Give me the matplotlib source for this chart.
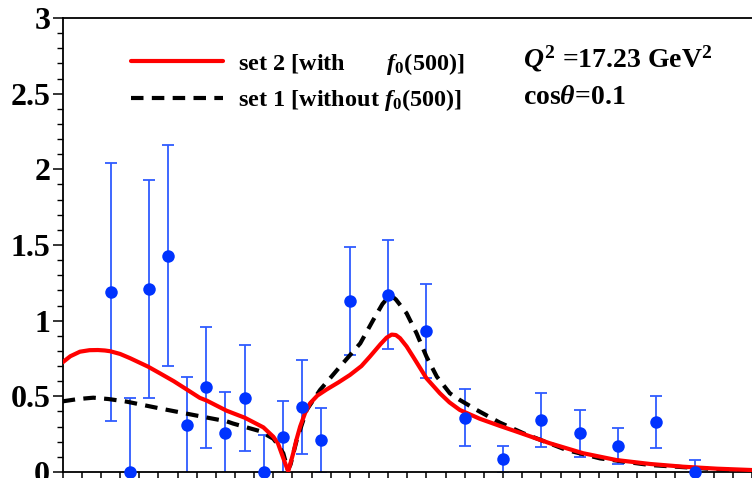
import matplotlib
matplotlib.use("Agg")
import matplotlib.pyplot as plt
import numpy as np

plt.rcParams['font.family'] = ['Liberation Serif', 'DejaVu Serif']
plt.rcParams['font.weight'] = 'bold'
plt.rcParams['mathtext.fontset'] = 'custom'
plt.rcParams['mathtext.rm'] = 'Liberation Serif:bold'
plt.rcParams['mathtext.bf'] = 'Liberation Serif:bold'
plt.rcParams['mathtext.it'] = 'Liberation Serif:italic:bold'

# Data points (W in GeV)
W_pts = [0.525, 0.575, 0.625, 0.675, 0.725, 0.775, 0.825, 0.875, 0.925, 0.975, 1.025,
         1.075, 1.15, 1.25, 1.35, 1.45, 1.55, 1.65, 1.75, 1.85, 1.95, 2.05]
y_pts = [1.19, 0.0, 1.21, 1.43, 0.31, 0.56, 0.26, 0.49, 0.0, 0.23, 0.43,
         0.21, 1.13, 1.17, 0.93, 0.36, 0.085, 0.345, 0.255, 0.17, 0.33, 0.0]
err_pts = [0.85, 0.49, 0.72, 0.73, 0.32, 0.40, 0.27, 0.35, 0.245, 0.24, 0.31,
           0.215, 0.36, 0.36, 0.31, 0.19, 0.09, 0.18, 0.155, 0.12, 0.17, 0.08]

# set 2 (with f0(500)) curve
W_set2 = [0.400, 0.420, 0.445, 0.470, 0.492, 0.510, 0.524, 0.550, 0.576, 0.623, 0.654,
          0.690, 0.726, 0.758, 0.776, 0.828, 0.876, 0.924, 0.950, 0.962, 0.972, 0.982,
          0.989, 0.995, 1.002, 1.010, 1.020, 1.033, 1.046, 1.065, 1.089, 1.120, 1.150,
          1.180, 1.202, 1.230, 1.246, 1.259, 1.270, 1.281, 1.298, 1.315, 1.350, 1.385,
          1.410, 1.437, 1.489, 1.541, 1.585, 1.672, 1.759, 1.846, 1.934, 2.020, 2.108,
          2.200]
y_set2 = [0.725, 0.765, 0.795, 0.805, 0.806, 0.803, 0.798, 0.780, 0.752, 0.696, 0.652,
          0.600, 0.542, 0.490, 0.472, 0.405, 0.358, 0.295, 0.233, 0.19, 0.12, 0.05,
          0.005, 0.06, 0.124, 0.21, 0.30, 0.39, 0.454, 0.505, 0.545, 0.592, 0.641,
          0.700, 0.762, 0.845, 0.888, 0.908, 0.905, 0.884, 0.830, 0.762, 0.619, 0.52,
          0.46, 0.41, 0.352, 0.305, 0.267, 0.19, 0.124, 0.079, 0.053, 0.035, 0.022,
          0.013]

# set 1 (without f0(500)) curve
W_set1 = [0.400, 0.440, 0.480, 0.520, 0.567, 0.654, 0.741, 0.776, 0.828, 0.845, 0.915,
          0.950, 0.959, 0.976, 0.988, 0.995, 1.011, 1.037, 1.072, 1.124, 1.177, 1.211,
          1.235, 1.250, 1.258, 1.270, 1.298, 1.324, 1.350, 1.377, 1.411, 1.437, 1.481,
          1.541, 1.603, 1.716, 1.803, 1.934, 2.108, 2.200]
y_set1 = [0.467, 0.482, 0.491, 0.482, 0.465, 0.42, 0.377, 0.36, 0.335, 0.32, 0.27,
          0.22, 0.19, 0.124, 0.013, 0.05, 0.21, 0.41, 0.542, 0.696, 0.85, 1.005,
          1.11, 1.155, 1.165, 1.140, 1.049, 0.917, 0.762, 0.63, 0.52, 0.476, 0.41,
          0.327, 0.256, 0.145, 0.09, 0.046, 0.018, 0.009]

y_ticks = [0, 0.5, 1, 1.5, 2, 2.5, 3]
y_ticklabels = ["0", "0.5", "1", "1.5", "2", "2.5", "3"]

label_set2 = "set 2 [with       $f_0$(500)]"
label_set1 = "set 1 [without $f_0$(500)]"

fig = plt.figure(figsize=(7.52, 4.78), dpi=100)
ax = fig.add_axes([62.7 / 752, 6 / 478, 1 - 62.7 / 752, (472 - 18) / 478])

ax.errorbar(W_pts, y_pts, yerr=err_pts, fmt='none', ecolor='#2f5cff', elinewidth=1.3,
            capsize=4, capthick=1.3, zorder=2)
l1, = ax.plot(W_set1, y_set1, color='black', lw=3.0, ls=(0, (3, 2)), zorder=3,
              label=label_set1)
l2, = ax.plot(W_set2, y_set2, color='#ff0000', lw=3.0, zorder=4, label=label_set2,
              solid_capstyle='round', solid_joinstyle='round')
ax.plot(W_pts, y_pts, 'o', color='#0033ff', ms=9, mew=0, zorder=5, clip_on=False)

ax.set_xlim(0.4, 2.2)
ax.set_ylim(0, 3)
ax.set_yticks(y_ticks)
ax.set_yticklabels(y_ticklabels)
ax.set_yticks(np.arange(0, 3.01, 0.1), minor=True)
ax.set_xticks(np.arange(0.4, 2.201, 0.05))
ax.tick_params(axis='x', which='major', direction='out', length=5, width=1.1,
               labelbottom=False)
ax.tick_params(axis='y', which='major', direction='out', length=7, width=1.1,
               labelsize=23, pad=2)
ax.tick_params(axis='y', which='minor', direction='out', length=4, width=1.0)
for lab in ax.get_yticklabels():
    lab.set_fontweight('bold')

ax.spines['right'].set_visible(False)
for s in ['left', 'top', 'bottom']:
    ax.spines[s].set_linewidth(1.3)

leg = fig.legend(handles=[l2, l1], loc='upper left', bbox_to_anchor=(131 / 752, 1 - 51 / 478),
                 frameon=False, handlelength=3.8, handletextpad=0.62,
                 borderpad=0, borderaxespad=0, labelspacing=0.43,
                 prop={'weight': 'bold', 'size': 17.5})

fig.text(522.7 / 752, 1 - 66.7 / 478, r"$Q^2$ =17.23 GeV$^2$", fontsize=20,
         fontweight='bold', va='baseline', ha='left')
fig.text(522.7 / 752, 1 - 104 / 478, r"cos$\theta$=0.1", fontsize=20,
         fontweight='bold', va='baseline', ha='left')

fig.savefig("out.png", dpi=100)
